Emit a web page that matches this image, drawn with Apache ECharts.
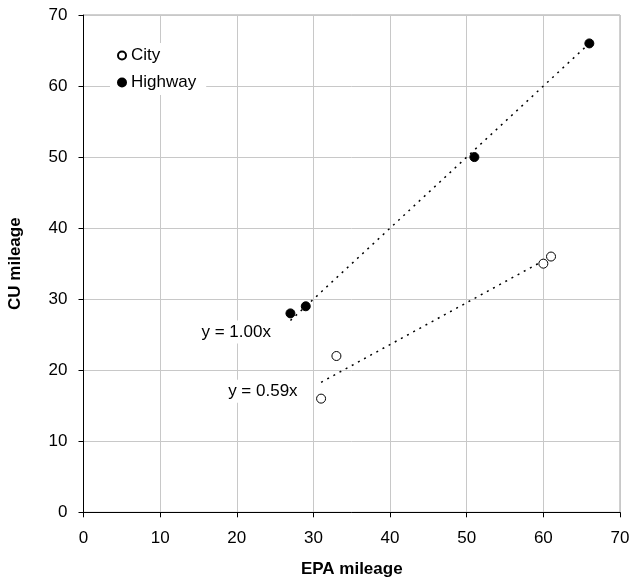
<!DOCTYPE html>
<html><head><meta charset="utf-8">
<script src="https://cdn.jsdelivr.net/npm/echarts@6/dist/echarts.min.js"></script>
<style>html,body{margin:0;padding:0;background:#fff}#c{width:629px;height:580px}</style>
</head><body><div id="c"></div>
<script>
var cityData = [[31,16],[33,22],[60,35],[61,36]];
var highwayData = [[27,28],[29,29],[51,50],[66,66]];
var highwayFit = [[27,27],[66,66]];
var cityFit = [[31,18.3],[61,36]];
var highwayEq = 'y = 1.00x';
var cityEq = 'y = 0.59x';
var xName = 'EPA mileage', yName = 'CU mileage';

var F = 'Liberation Sans, Arial, sans-serif';
var FS = 17;
var chart = echarts.init(document.getElementById('c'));
function fitData(arr, label, dist, off){
  return arr.map(function(p,i){
    if(i===0) return {value:p, label:{show:true, formatter:label, position:'left', distance:dist, offset:off,
      color:'#000', fontFamily:F, fontSize:FS, backgroundColor:'#fff', padding:[3,3]}};
    return {value:p, label:{show:false}};
  });
}
chart.setOption({
  animation:false,
  grid:{left:83.5, right:9, top:15, bottom:67.7, show:true, borderColor:'#a0a0a0', borderWidth:1, outerBoundsMode:'none', containLabel:false},
  legend:{left:110, top:43, orient:'vertical', padding:[4,10,4,7], itemWidth:8, itemHeight:8, itemGap:10,
    backgroundColor:'#fff', textStyle:{fontFamily:F, fontSize:FS, color:'#000', lineHeight:17},
    data:[{name:'City', icon:'circle'},{name:'Highway', icon:'circle'}]},
  xAxis:{type:'value', min:0, max:70, interval:10, name:xName, nameLocation:'middle', nameGap:49,
    nameTextStyle:{fontFamily:F, fontSize:FS, fontWeight:'bold', color:'#000'},
    axisLine:{onZero:false, lineStyle:{color:'#000', width:1}},
    axisTick:{show:true, length:5, lineStyle:{color:'#000'}},
    axisLabel:{margin:18, fontFamily:F, fontSize:FS, color:'#000'},
    splitLine:{lineStyle:{color:'#c8c8c8', width:1}}},
  yAxis:{type:'value', min:0, max:70, interval:10, name:yName, nameLocation:'middle', nameGap:60, nameRotate:90,
    nameTextStyle:{fontFamily:F, fontSize:FS, fontWeight:'bold', color:'#000'},
    axisLine:{show:true, onZero:false, lineStyle:{color:'#000', width:1}},
    axisTick:{show:true, length:5, lineStyle:{color:'#000'}},
    axisLabel:{margin:16, fontFamily:F, fontSize:FS, color:'#000'},
    splitLine:{lineStyle:{color:'#c8c8c8', width:1}}},
  series:[
    {name:'HighwayFit', type:'line', data:fitData(highwayFit, highwayEq, 16, [0,11.5]), symbol:'circle', symbolSize:1, showSymbol:true,
      itemStyle:{color:'rgba(0,0,0,0)'},
      lineStyle:{color:'#000', width:1.5, type:[2,5]}, z:3, silent:true},
    {name:'CityFit', type:'line', data:fitData(cityFit, cityEq, 20, [0,9]), symbol:'circle', symbolSize:1, showSymbol:true,
      itemStyle:{color:'rgba(0,0,0,0)'},
      lineStyle:{color:'#000', width:1.5, type:[2,5]}, z:3, silent:true},
    {name:'City', type:'scatter', data:cityData, symbol:'circle', symbolSize:9,
      itemStyle:{color:'#fff', borderColor:'#000', borderWidth:1, opacity:1}, z:5},
    {name:'Highway', type:'scatter', data:highwayData, symbol:'circle', symbolSize:9,
      itemStyle:{color:'#000', borderColor:'#000', borderWidth:1, opacity:1}, z:5}
  ]
});
</script></body></html>
